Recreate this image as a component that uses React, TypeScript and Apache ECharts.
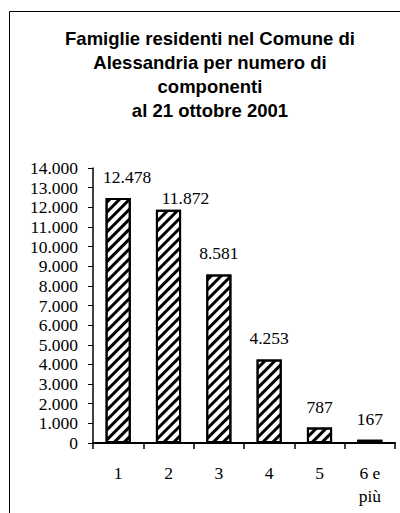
import React, { useEffect, useRef } from "react";
import * as echarts from "echarts";

const titleLines = [
  "Famiglie residenti nel Comune di",
  "Alessandria per numero di",
  "componenti",
  "al 21 ottobre 2001",
];
const categories = ["1", "2", "3", "4", "5", "6 e\npiù"];
const values = [12478, 11872, 8581, 4253, 787, 167];
const yMin = 0;
const yMax = 14000;
const yStep = 1000;

function fmt(v: number): string {
  const s = String(Math.round(v));
  return s.replace(/\B(?=(\d{3})+(?!\d))/g, ".");
}

const SERIF = "'Liberation Serif', 'Times New Roman', serif";
const SANS = "'Liberation Sans', Arial, sans-serif";

export default function App() {
  const ref = useRef<HTMLDivElement>(null);
  useEffect(() => {
    if (!ref.current) return;
    const chart = echarts.init(ref.current, null, { renderer: "svg" });
    const labelShift: Record<number, number[]> = { 0: [9, 0], 1: [17, 9] };
    chart.setOption({
      animation: false,
      backgroundColor: "#ffffff",
      title: {
        text: titleLines.join("\n"),
        left: 210,
        top: 26,
        padding: 0,
        textAlign: "center",
        textStyle: {
          fontFamily: SANS,
          fontWeight: "bold",
          fontSize: 18.5,
          lineHeight: 24,
          color: "#000",
        },
      },
      graphic: [
        {
          type: "rect",
          shape: { x: 9.5, y: 11.5, width: 500, height: 600 },
          style: { fill: "none", stroke: "#000", lineWidth: 1 },
          silent: true,
        },
      ],
      grid: { left: 93, right: 5, top: 168, bottom: 70 },
      xAxis: {
        type: "category",
        data: categories,
        boundaryGap: true,
        axisLine: { lineStyle: { color: "#000", width: 2 } },
        axisTick: { show: true, length: 6, inside: false, lineStyle: { color: "#000", width: 1.5 } },
        axisLabel: {
          color: "#000",
          fontFamily: SERIF,
          fontSize: 17.5,
          lineHeight: 23,
          margin: 18,
          interval: 0,
        },
        splitLine: { show: false },
      },
      yAxis: {
        type: "value",
        min: yMin,
        max: yMax,
        interval: yStep,
        axisLine: { show: true, lineStyle: { color: "#000", width: 1.5 } },
        axisTick: { show: true, length: 5, lineStyle: { color: "#000", width: 1 } },
        axisLabel: {
          color: "#000",
          fontFamily: SERIF,
          fontSize: 17.5,
          margin: 15,
          formatter: (v: number) => fmt(v),
        },
        splitLine: { show: false },
      },
      series: [
        {
          type: "bar",
          barWidth: "50%",
          data: values.map((v, i) => ({
            value: v,
            label: labelShift[i] ? { offset: labelShift[i] } : undefined,
          })),
          itemStyle: {
            color: "#ffffff",
            borderColor: "#000",
            borderWidth: 2,
            decal: {
              symbol: "rect",
              symbolSize: 1,
              color: "#000",
              dashArrayX: [1, 0],
              dashArrayY: [3, 3.5],
              rotation: -Math.PI / 4,
            },
          },
          label: {
            show: true,
            position: "top",
            distance: 12,
            color: "#000",
            fontFamily: SERIF,
            fontSize: 17.5,
            formatter: (p: any) => fmt(p.value),
          },
        },
      ],
    });
    return () => chart.dispose();
  }, []);
  return (
    <div
      ref={ref}
      style={{ position: "fixed", left: 0, top: 0, width: 400, height: 513 }}
    />
  );
}
